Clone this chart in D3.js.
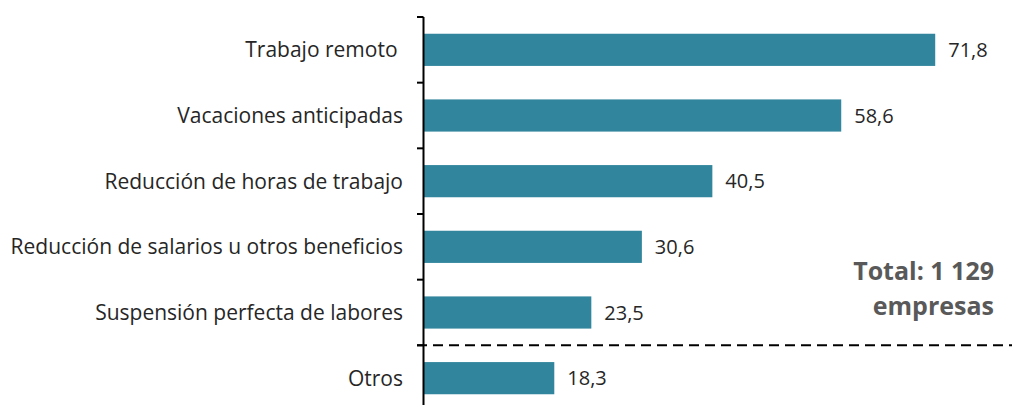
<!DOCTYPE html>
<html>
<head>
    <meta charset="utf-8">
    <script src="https://cdn.jsdelivr.net/npm/d3@7"></script>
    <style>
        body {
            margin: 0;
            background: white;
        }
        text {
            font-family: "Open Sans", "Noto Sans", sans-serif;
        }
    </style>
</head>
<body>
<div id="chart"></div>
<script>
    // categories and their percentages
    var categories = [
        "Trabajo remoto ",
        "Vacaciones anticipadas",
        "Reducción de horas de trabajo",
        "Reducción de salarios u otros beneficios",
        "Suspensión perfecta de labores",
        "Otros"
    ];
    var values = [71.8, 58.6, 40.5, 30.6, 23.5, 18.3];
    var totalLines = ["Total: 1 129", "empresas"];

    var width = 1012, height = 405;
    var margin = {top: 17, left: 424};

    var svg = d3.select("#chart").append("svg")
        .attr("width", width)
        .attr("height", height);

    // x: about 7.12px per unit
    var x = d3.scaleLinear().domain([0, 100]).range([margin.left, margin.left + 712]);
    var y = d3.scaleBand().domain(categories).range([margin.top, margin.top + 394]).paddingInner(0.51).paddingOuter(0.255);

    var data = categories.map(function (c, i) {
        return {cat: c, value: values[i]};
    });

    // bars
    svg.selectAll("rect.bar")
        .data(data)
        .enter()
        .append("rect")
        .attr("class", "bar")
        .attr("x", x(0))
        .attr("y", function (d) { return y(d.cat); })
        .attr("width", function (d) { return x(d.value) - x(0); })
        .attr("height", y.bandwidth())
        .attr("fill", "#31859c");

    // value labels
    svg.selectAll("text.val")
        .data(data)
        .enter()
        .append("text")
        .attr("class", "val")
        .attr("x", function (d) { return x(d.value) + 13; })
        .attr("y", function (d) { return y(d.cat) + y.bandwidth() / 2; })
        .attr("dy", "0.36em")
        .attr("font-size", 20)
        .attr("fill", "#262626")
        .text(function (d) { return d3.format(".1f")(d.value).replace(".", ","); });

    // category labels
    svg.selectAll("text.cat")
        .data(data)
        .enter()
        .append("text")
        .attr("class", "cat")
        .attr("x", 403)
        .attr("y", function (d) { return y(d.cat) + y.bandwidth() / 2; })
        .attr("dy", "0.36em")
        .attr("text-anchor", "end")
        .attr("font-size", 21)
        .attr("fill", "#262626")
        .style("white-space", "pre")
        .text(function (d) { return d.cat; });

    // vertical axis with ticks at band boundaries
    var step = y.step();
    var bounds = d3.range(categories.length + 1).map(function (i) { return margin.top + i * step; });
    svg.append("line")
        .attr("x1", x(0) - 0.5).attr("x2", x(0) - 0.5)
        .attr("y1", margin.top).attr("y2", height + 10)
        .attr("stroke", "#000").attr("stroke-width", 2);
    svg.selectAll("line.tick")
        .data(bounds)
        .enter()
        .append("line")
        .attr("class", "tick")
        .attr("x1", x(0) - 7).attr("x2", x(0) - 0.5)
        .attr("y1", function (d) { return d; })
        .attr("y2", function (d) { return d; })
        .attr("stroke", "#000").attr("stroke-width", 2);

    // dashed separator above "Otros"
    var sepY = y("Otros") - y.step() * y.paddingInner() / 2;
    svg.append("line")
        .attr("x1", x(0) - 7).attr("x2", width)
        .attr("y1", sepY).attr("y2", sepY)
        .attr("stroke", "#000").attr("stroke-width", 2)
        .attr("stroke-dasharray", "10,6");

    // total note
    svg.selectAll("text.total")
        .data(totalLines)
        .enter()
        .append("text")
        .attr("class", "total")
        .attr("x", 994)
        .attr("y", function (d, i) { return 280 + i * 35; })
        .attr("text-anchor", "end")
        .attr("font-size", 25)
        .attr("font-weight", "bold")
        .attr("fill", "#595959")
        .text(function (d) { return d; });
</script>
</body>
</html>
